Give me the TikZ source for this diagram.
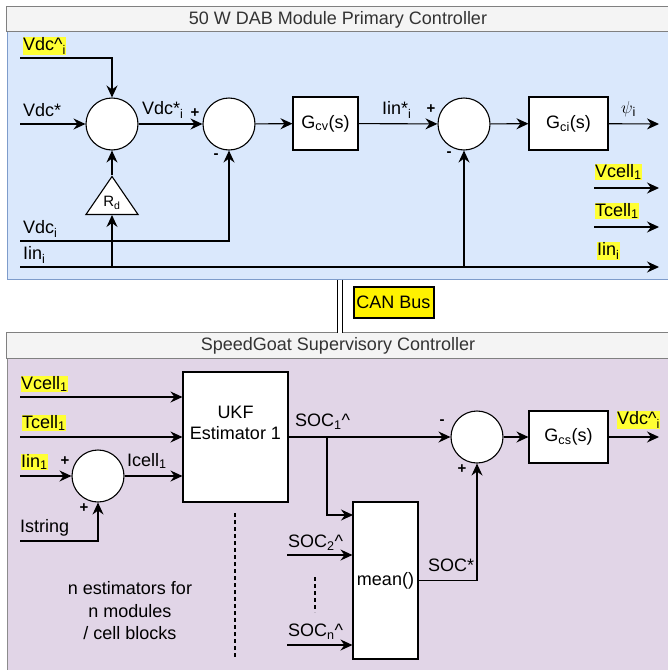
\documentclass[tikz,border=0pt]{standalone}
\usepackage{fontspec}
\setmainfont{Liberation Sans}
\usetikzlibrary{arrows.meta, positioning, shapes.geometric}

\definecolor{primfill}{HTML}{DAE8FC}
\definecolor{primline}{HTML}{7E9CCB}
\definecolor{supfill}{HTML}{E1D5E7}
\definecolor{supline}{HTML}{8C8C8C}
\definecolor{headfill}{HTML}{F4F4F4}
\definecolor{headline}{HTML}{808080}
\definecolor{titletext}{HTML}{333333}
\definecolor{hilite}{HTML}{FFFF33}

\begin{document}
\begin{tikzpicture}[x=1pt, y=-1pt, line width=1.1pt,
  every node/.style={font=\fontsize{18}{21}\selectfont},
  panel/.style={draw, line width=1pt, minimum width=662pt, inner sep=0},
  sumnode/.style={draw, circle, fill=white, minimum size=52pt, inner sep=0},
  block/.style={draw, fill=white, minimum height=53pt, inner sep=0},
  lbl/.style={anchor=west, inner sep=0.5pt},
  tag/.style={lbl, fill=hilite},
  sign/.style={inner sep=0, font=\fontsize{15}{18}\selectfont\bfseries},
  arrow/.style={-{Stealth[length=12pt, width=11pt, inset=4pt]}}
]
\useasboundingbox (0,0) rectangle (668,670);
\clip (0,0) rectangle (668,670);

% panels
\node[panel, draw=primline, fill=primfill, minimum height=272pt] (prim) at (338,143) {};
\draw[headline, line width=1pt, fill=headfill] (prim.north west) rectangle ([yshift=-25pt]prim.north east);
\node[text=titletext] (primtitle) at (338,19.5) {50 W DAB Module Primary Controller};

\node[panel, draw=supline, fill=supfill, minimum height=360pt] (sup) at (338,513) {};
\draw[headline, line width=1pt, fill=headfill] (sup.north west) rectangle ([yshift=-26pt]sup.north east);
\node[text=titletext] (suptitle) at (338,346) {SpeedGoat Supervisory Controller};

% CAN bus link
\draw[double, double distance=3.5pt, line width=0.9pt] ([xshift=2pt]prim.south) -- ([xshift=2pt]sup.north);
\node[draw, line width=2pt, fill=yellow, minimum width=80pt, minimum height=31pt, inner sep=0] (can) at (393.5,302) {CAN Bus};

% primary controller blocks
\node[sumnode] (sumvdc) at (112,124) {};
\node[sumnode] (sumv) at (229,124) {};
\node[block, minimum width=65pt] (gcv) at (325.5,123.5) {G\textsubscript{cv}(s)};
\node[sumnode] (sumi) at (464,124) {};
\node[block, minimum width=79pt] (gci) at (568.5,123.5) {G\textsubscript{ci}(s)};
\node[draw, fill=white, isosceles triangle, shape border rotate=90, isosceles triangle stretches,
  minimum width=52pt, minimum height=38pt, inner sep=0, anchor=lower side] (droop) at (112,215) {};
\node[inner sep=0, font=\fontsize{15}{17}\selectfont] (droopname) at (112,203) {R\textsubscript{d}};

\coordinate (vdchatin) at (20,58);
\coordinate (vdcin) at (20,124);
\coordinate (psiout) at (659,124);
\coordinate (vdcmeas) at (20,241);
\coordinate (iinmeas) at (20,267);
\coordinate (iinout) at (659,267);
\coordinate (vcellsrc) at (594,188);
\coordinate (vcellout) at (659,188);
\coordinate (tcellsrc) at (594,227);
\coordinate (tcellout) at (659,227);

\draw[arrow] (vdchatin) -| (sumvdc);
\draw[arrow] (vdcin) -- (sumvdc);
\draw[arrow] (sumvdc) -- (sumv);
\draw[arrow] (sumv) -- (gcv);
\draw[arrow] (gcv) -- (sumi);
\draw[arrow] (sumi) -- (gci);
\draw[arrow] (gci) -- (psiout);
\draw[arrow] (droop.apex) -- (sumvdc.south);
\draw[arrow] (vdcmeas) -| (sumv.south);
\draw[arrow] (iinmeas) -- (iinout);
\draw[arrow] (iinmeas -| droop.apex) -- (droop.lower side);
\draw[arrow] (iinmeas -| sumi) -- (sumi.south);
\draw[arrow] (vcellsrc) -- (vcellout);
\draw[arrow] (tcellsrc) -- (tcellout);

\node[tag] (vdchatlbl) at (22,46) {Vdc\textasciicircum\textsubscript{i}};
\node[lbl] (vdcreflbl) at (22,110) {Vdc*};
\node[lbl] (vdcilbl) at (141,110) {Vdc*\textsubscript{i}};
\node[sign] at (195,113) {+};
\node[sign] at (216,156) {-};
\node[lbl] (iinreflbl) at (381,110) {Iin*\textsubscript{i}};
\node[sign] at (431,109) {+};
\node[sign] at (449,154) {-};
\node[lbl] (psilbl) at (620,109) {$\psi$\textsubscript{i}};
\node[lbl] (vdcmeaslbl) at (22,229) {Vdc\textsubscript{i}};
\node[lbl] (iinmeaslbl) at (22,255) {Iin\textsubscript{i}};
\node[tag] (vcelllbl) at (594,172) {Vcell\textsubscript{1}};
\node[tag] (tcelllbl) at (594,211) {Tcell\textsubscript{1}};
\node[tag] (iinlbl) at (596,251) {Iin\textsubscript{i}};

% supervisory controller blocks
\node[block, minimum width=105pt, minimum height=130pt,
  label={[align=center, yshift=14pt]center:UKF\\Estimator 1}] (ukf) at (235.5,437) {};
\node[sumnode] (sumicell) at (98,476) {};
\node[block, minimum width=65pt, minimum height=157pt] (avg) at (385.5,580.5) {mean()};
\node[sumnode] (sumsoc) at (477,437) {};
\node[block, minimum width=79pt, minimum height=52pt] (gcs) at (568.5,437) {G\textsubscript{cs}(s)};

\coordinate (vcellin) at (20,397);
\coordinate (tcellin) at (20,437);
\coordinate (iincellin) at (20,476);
\coordinate (istrin) at (20,541);
\coordinate (socbranch) at (327,437);
\coordinate (soconein) at (353,515);
\coordinate (soctwoin) at (287,555);
\coordinate (socnin) at (287,645);
\coordinate (vdchatout) at (659,437);

\draw[arrow] (vcellin) -- (vcellin -| ukf.west);
\draw[arrow] (tcellin) -- (tcellin -| ukf.west);
\draw[arrow] (iincellin) -- (sumicell);
\draw[arrow] (sumicell) -- (sumicell -| ukf.west);
\draw[arrow] (istrin) -| (sumicell.south);
\draw[arrow] (ukf.east) -- (sumsoc);
\draw[arrow] (socbranch) |- (soconein);
\draw[arrow] (soctwoin) -- (soctwoin -| avg.west);
\draw[arrow] (socnin) -- (socnin -| avg.west);
\draw[arrow] (avg.east) -| (sumsoc.south);
\draw[arrow] (sumsoc) -- (gcs);
\draw[arrow] (gcs) -- (vdchatout);
\draw[dashed, dash pattern=on 4pt off 3pt] (235,513) -- (235,658);
\draw[dashed, dash pattern=on 4pt off 3pt] (315,577) -- (315,612);

\node[tag] (vcellinlbl) at (20,384) {Vcell\textsubscript{1}};
\node[tag] (tcellinlbl) at (21,423) {Tcell\textsubscript{1}};
\node[tag] (iincellinlbl) at (20,462) {Iin\textsubscript{1}};
\node[sign] at (65,461) {+};
\node[lbl] (icelllbl) at (126,461) {Icell\textsubscript{1}};
\node[lbl] (istrlbl) at (19,528) {Istring};
\node[sign] at (84,508) {+};
\node[lbl] (soconelbl) at (294,422) {SOC\textsubscript{1}\textasciicircum};
\node[sign] at (442,422) {-};
\node[sign] at (462,469) {+};
\node[tag] (vdchatoutlbl) at (616,420) {Vdc\textasciicircum\textsubscript{i}};
\node[lbl] (socavglbl) at (427,565) {SOC*};
\node[lbl] (soctwolbl) at (287,543) {SOC\textsubscript{2}\textasciicircum};
\node[lbl] (socnlbl) at (287,632) {SOC\textsubscript{n}\textasciicircum};
\node[align=center, font=\fontsize{18}{22.5}\selectfont] (note) at (130,611) {n estimators for\\n modules\\/ cell blocks};

\end{tikzpicture}
\end{document}
